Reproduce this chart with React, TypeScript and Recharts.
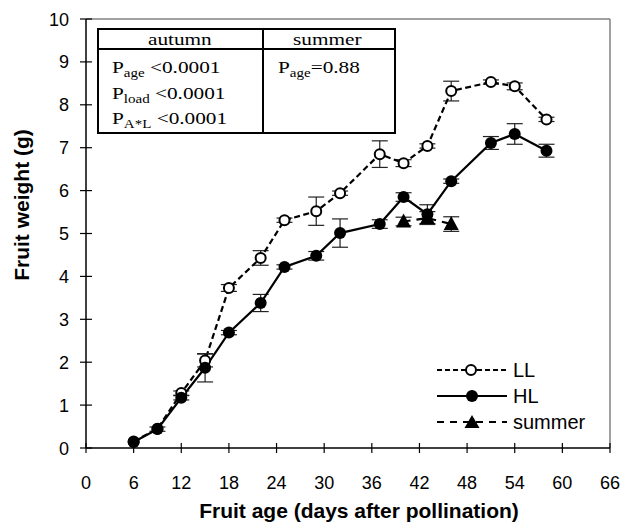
import { LineChart, Line, XAxis, YAxis, ErrorBar, ReferenceLine, Label } from "recharts";

const days = [6, 9, 12, 15, 18, 22, 25, 29, 32, 37, 40, 43, 46, 51, 54, 58];
const llWeight = [0.15, 0.45, 1.28, 2.04, 3.73, 4.43, 5.31, 5.52, 5.94, 6.85, 6.64, 7.04, 8.32, 8.53, 8.43, 7.66];
const llErr = [0, 0, 0.05, 0.15, 0.08, 0.17, 0.05, 0.33, 0.05, 0.31, 0.08, 0.05, 0.23, 0.05, 0.08, 0.05];
const hlWeight = [0.14, 0.44, 1.17, 1.87, 2.69, 3.38, 4.22, 4.48, 5.01, 5.22, 5.85, 5.45, 6.22, 7.11, 7.32, 6.93];
const hlErr = [0, 0.05, 0.05, 0.33, 0.05, 0.2, 0.05, 0.1, 0.33, 0.1, 0.1, 0.22, 0.05, 0.15, 0.24, 0.15];
const summerDays = [40, 43, 46];
const summerWeight = [5.28, 5.36, 5.22];
const summerErr = [0.1, 0.15, 0.17];

const xTicks = [0, 6, 12, 18, 24, 30, 36, 42, 48, 54, 60, 66];
const yTicks = [0, 1, 2, 3, 4, 5, 6, 7, 8, 9, 10];

const SANS = "'Liberation Sans', Arial, sans-serif";
const SERIF = "'Liberation Serif', 'Times New Roman', serif";

const llData = days.map((d, i) => ({ day: d, w: llWeight[i], err: llErr[i] }));
const hlData = days.map((d, i) => ({ day: d, w: hlWeight[i], err: hlErr[i] }));
const summerData = summerDays.map((d, i) => ({ day: d, w: summerWeight[i], err: summerErr[i] }));

const XTick = (props: any) => {
  const { x, y, payload } = props;
  return (
    <g>
      <line x1={x} y1={y - 5} x2={x} y2={y + 5} stroke="#000" strokeWidth={1.2} />
      <text x={x} y={y + 41} textAnchor="middle" fontSize={18} fontFamily={SANS} fill="#000">
        {payload.value}
      </text>
    </g>
  );
};

const YTick = (props: any) => {
  const { x, y, payload } = props;
  return (
    <g>
      <line x1={x - 6} y1={y} x2={x + 6} y2={y} stroke="#000" strokeWidth={1.2} />
      <text x={x - 17} y={y + 6.5} textAnchor="end" fontSize={18} fontFamily={SANS} fill="#000">
        {payload.value}
      </text>
    </g>
  );
};

const Triangle = (props: any) => {
  const { cx, cy } = props;
  if (cx == null || cy == null) return null;
  return <polygon points={`${cx},${cy - 8} ${cx - 7.5},${cy + 6} ${cx + 7.5},${cy + 6}`} fill="#000" />;
};

// table text is wider than plain Times in the original, so stretch it a bit
const stretch = { position: "absolute" as const, transform: "scaleX(1.25)", transformOrigin: "left", whiteSpace: "nowrap" as const, lineHeight: 1 };
const sub = { fontSize: 12, position: "relative" as const, top: 4 };

const StatsTable = () => (
  <div style={{ position: "absolute", left: 97, top: 28, width: 299, height: 106, fontFamily: SERIF, fontSize: 17, color: "#000" }}>
    <div style={{ position: "absolute", inset: 0, border: "2px solid #000", boxSizing: "border-box" }} />
    <div style={{ position: "absolute", left: 0, top: 20, width: 299, height: 2, background: "#000" }} />
    <div style={{ position: "absolute", left: 165, top: 0, width: 2, height: 106, background: "#000" }} />
    <span style={{ ...stretch, left: 51, top: 3 }}>autumn</span>
    <span style={{ ...stretch, left: 196, top: 3 }}>summer</span>
    <span style={{ ...stretch, left: 15, top: 30.5 }}>P<span style={sub}>age</span> &lt;0.0001</span>
    <span style={{ ...stretch, left: 15, top: 57 }}>P<span style={sub}>load</span> &lt;0.0001</span>
    <span style={{ ...stretch, left: 15, top: 82 }}>P<span style={sub}>A*L</span> &lt;0.0001</span>
    <span style={{ ...stretch, left: 181, top: 30.5 }}>P<span style={sub}>age</span>=0.88</span>
  </div>
);

const legendRows = [
  { name: "LL", dash: "5 3", marker: "open" },
  { name: "HL", dash: "", marker: "filled" },
  { name: "summer", dash: "7 6", marker: "triangle" },
];

const LegendBox = () => (
  <div style={{ position: "absolute", left: 436, top: 357, fontFamily: SANS, fontSize: 20, color: "#000" }}>
    {legendRows.map((r) => (
      <div key={r.name} style={{ display: "flex", alignItems: "center", height: 26 }}>
        <svg width={72} height={20}>
          <line x1={1} y1={10} x2={71} y2={10} stroke="#000" strokeWidth={2.2} strokeDasharray={r.dash} />
          {r.marker === "open" && <circle cx={35} cy={10} r={5} fill="#fff" stroke="#000" strokeWidth={2} />}
          {r.marker === "filled" && <circle cx={36} cy={10} r={6} fill="#000" />}
          {r.marker === "triangle" && <polygon points="36,3 28.5,16 43.5,16" fill="#000" />}
        </svg>
        <span style={{ marginLeft: 5 }}>{r.name}</span>
      </div>
    ))}
  </div>
);

export default function App() {
  return (
    <div style={{ position: "absolute", left: 0, top: 0, width: 623, height: 524, background: "#fff" }}>
      <LineChart width={623} height={524} margin={{ top: 19, right: 13, bottom: 0, left: 0 }}>
        <XAxis
          dataKey="day"
          type="number"
          domain={[0, 66]}
          ticks={xTicks}
          height={76}
          tickSize={0}
          tickMargin={0}
          tickLine={false}
          tick={<XTick />}
          axisLine={{ stroke: "#000", strokeWidth: 1.5 }}
          interval={0}
        >
          <Label
            content={() => (
              <text x={359} y={518} textAnchor="middle" fontSize={21} fontWeight="bold" fontFamily={SANS} fill="#000">
                Fruit age (days after pollination)
              </text>
            )}
          />
        </XAxis>
        <YAxis
          type="number"
          domain={[0, 10]}
          ticks={yTicks}
          width={86}
          tickSize={0}
          tickMargin={0}
          tickLine={false}
          tick={<YTick />}
          axisLine={{ stroke: "#000", strokeWidth: 1.5 }}
          interval={0}
        >
          <Label
            content={() => (
              <text x={29} y={205} transform="rotate(-90 29 205)" textAnchor="middle" fontSize={21} fontWeight="bold" fontFamily={SANS} fill="#000">
                Fruit weight (g)
              </text>
            )}
          />
        </YAxis>
        <ReferenceLine x={66} stroke="#808080" strokeWidth={1.5} />
        <ReferenceLine y={10} stroke="#808080" strokeWidth={1.5} />
        <Line
          data={llData}
          dataKey="w"
          name="LL"
          stroke="#000"
          strokeWidth={2.2}
          strokeDasharray="6 3.5"
          dot={{ r: 5, fill: "#fff", stroke: "#000", strokeWidth: 2, strokeDasharray: "" }}
          activeDot={false}
          isAnimationActive={false}
        >
          <ErrorBar dataKey="err" direction="y" width={8} stroke="#222" strokeWidth={1.2} />
        </Line>
        <Line
          data={hlData}
          dataKey="w"
          name="HL"
          stroke="#000"
          strokeWidth={2.2}
          dot={{ r: 6, fill: "#000", stroke: "#000", strokeWidth: 0 }}
          activeDot={false}
          isAnimationActive={false}
        >
          <ErrorBar dataKey="err" direction="y" width={8} stroke="#222" strokeWidth={1.2} />
        </Line>
        <Line
          data={summerData}
          dataKey="w"
          name="summer"
          stroke="#000"
          strokeWidth={2.2}
          strokeDasharray="7 6"
          dot={<Triangle />}
          activeDot={false}
          isAnimationActive={false}
        >
          <ErrorBar dataKey="err" direction="y" width={8} stroke="#222" strokeWidth={1.2} />
        </Line>
      </LineChart>
      <StatsTable />
      <LegendBox />
    </div>
  );
}
